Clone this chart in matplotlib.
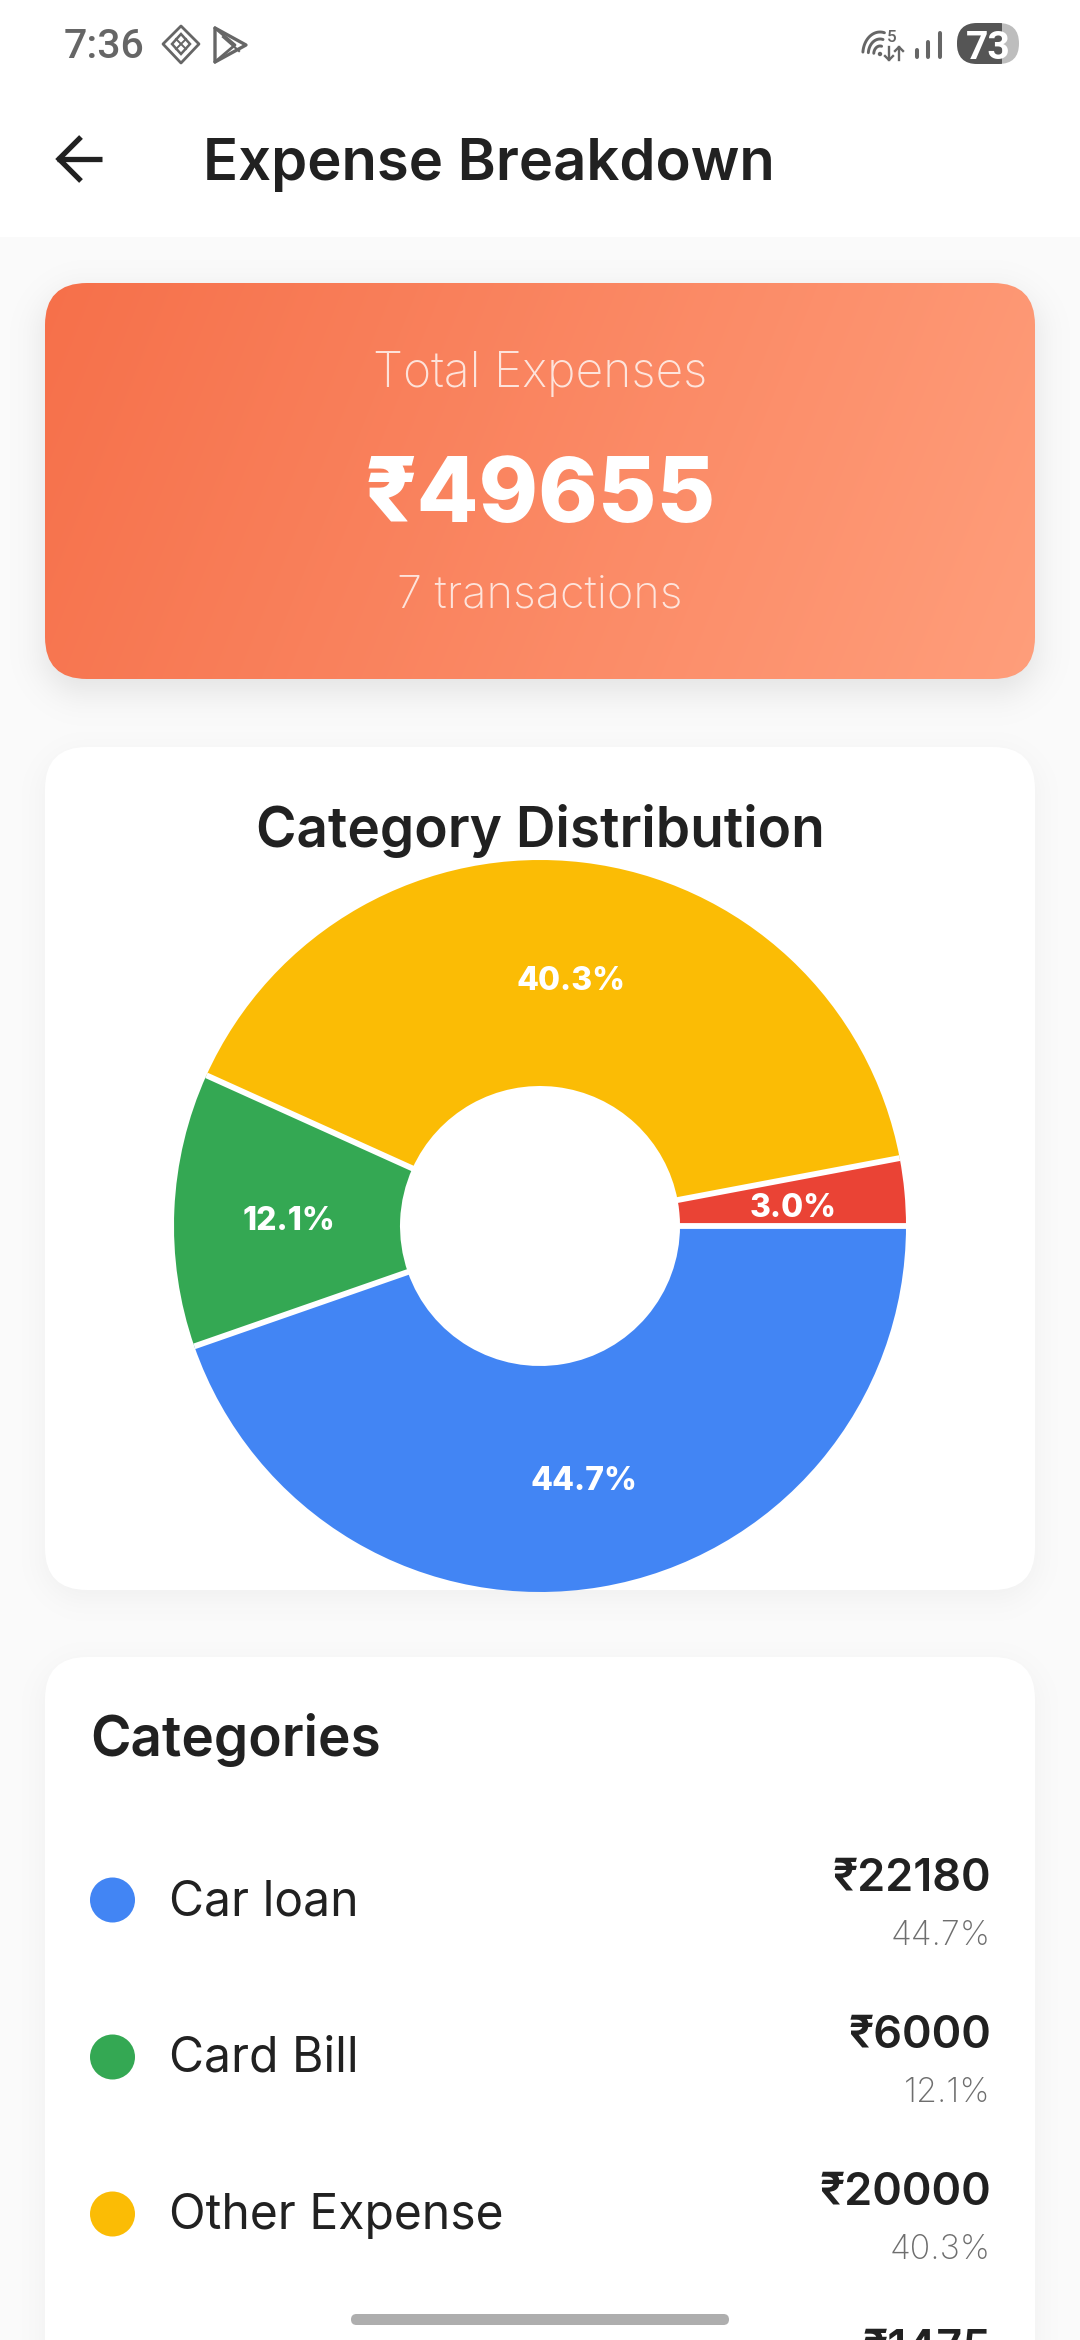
import numpy as np
import matplotlib
matplotlib.use("Agg")
import matplotlib.pyplot as plt
from matplotlib.patches import FancyBboxPatch, Circle, Polygon, Rectangle
from matplotlib.colors import to_rgb

W, H = 1080, 2340

# ---- data ----
pie_values = [22180, 6000, 20000, 1475]
pie_colors = ['#4285F4', '#34A853', '#FBBC05', '#EA4335']
row_names = ['Car loan', 'Card Bill', 'Other Expense']
row_amounts = ['₹22180', '₹6000', '₹20000', '₹1475']
row_percents = ['44.7%', '12.1%', '40.3%']
total_label = '₹49655'
tx_label = '7 transactions'

FONT = ['Inter', 'DejaVu Sans']
plt.rcParams['font.family'] = FONT

fig = plt.figure(figsize=(W / 100, H / 100), dpi=100, facecolor='#FAFAFA')
bg = fig.add_axes([0, 0, 1, 1])
bg.set_xlim(0, W)
bg.set_ylim(H, 0)
bg.axis('off')


def sdf(x0, y0, x1, y1, r):
    xx, yy = np.meshgrid(np.arange(W) + .5, np.arange(H) + .5)
    cx, cy = (x0 + x1) / 2, (y0 + y1) / 2
    hx, hy = (x1 - x0) / 2 - r, (y1 - y0) / 2 - r
    qx, qy = np.abs(xx - cx) - hx, np.abs(yy - cy) - hy
    return np.hypot(np.maximum(qx, 0), np.maximum(qy, 0)) + np.minimum(np.maximum(qx, qy), 0) - r


def shadow(x0, y0, x1, y1, r, dy, s, a):
    d = sdf(x0, y0 + dy, x1, y1 + dy, r)
    alpha = a / (1 + np.exp(np.clip(d / s, -30, 30)))
    img = np.zeros((H, W, 4))
    img[..., 3] = alpha
    bg.imshow(img, extent=(0, W, H, 0), zorder=1, interpolation='nearest', aspect='auto')


def card(x0, y0, x1, y1, r, color='white', z=2):
    p = FancyBboxPatch((x0 + r, y0 + r), x1 - x0 - 2 * r, y1 - y0 - 2 * r,
                       boxstyle=f'round,pad={r},rounding_size={r}', fc=color, ec='none', zorder=z)
    bg.add_patch(p)
    return p


def txt(x, y, s, px, color='#212121', weight='normal', ha='left', va='baseline', alpha=None, z=6, family=None):
    return bg.text(x, y, s, fontsize=px * .72, color=color, fontweight=weight, ha=ha, va=va,
                   alpha=alpha, zorder=z, family=family or FONT)


# app bar
bg.add_patch(Rectangle((0, 0), W, 237, fc='white', ec='none', zorder=1.5))

CR = 42
# shadows
shadow(45, 283, 1035, 679, CR, 12, 11, 0.10)
shadow(45, 747, 1035, 1590, CR, 8, 10, 0.045)
shadow(45, 1657, 1035, 2500, CR, 8, 10, 0.045)

# gradient card
x0, y0, x1, y1 = 45, 283, 1035, 679
xx, yy = np.meshgrid(np.linspace(x0, x1, 495), np.linspace(y0, y1, 198))
dx, dy = x1 - x0, y1 - y0
t = (((xx - x0) * dx + (yy - y0) * dy) / (dx * dx + dy * dy))[..., None]
c0, c1 = np.array(to_rgb('#F6704A')), np.array(to_rgb('#FF9E7B'))
grad = bg.imshow(c0 + (c1 - c0) * t, extent=(x0, x1, y1, y0), zorder=2, aspect='auto', interpolation='bilinear')
clip = card(x0, y0, x1, y1, CR, color='none')
grad.set_clip_path(clip)
bg.set_xlim(0, W)
bg.set_ylim(H, 0)

# white cards
card(45, 747, 1035, 1590, CR)
card(45, 1657, 1035, 2500, CR)

# status bar
ROBOTO = ['Roboto', 'DejaVu Sans']
txt(64, 58, '7:36', 41, color='#666666', weight='medium', family=ROBOTO)
G = '#666666'
bg.add_patch(Polygon([(181, 26), (199, 44), (181, 63), (163, 44)], fc='none', ec=G, lw=2, joinstyle='round', zorder=6))
bg.add_patch(Polygon([(181, 34), (190, 44), (181, 54), (172, 44)], fc='none', ec=G, lw=1.8, zorder=6))
bg.plot([176, 186], [39, 49], color=G, lw=1.4, zorder=6)
bg.plot([186, 176], [39, 49], color=G, lw=1.4, zorder=6)
bg.add_patch(Polygon([(215, 28), (246, 45), (215, 62)], fc='none', ec=G, lw=2.4, joinstyle='round', zorder=6))
bg.plot([215, 235, 215], [28, 45, 62], color=G, lw=2, zorder=6)
bg.plot([223, 239], [37, 51], color=G, lw=1.6, zorder=6)

# wifi
for r in (8, 15, 22):
    a = np.radians(np.linspace(185, 285, 24))
    bg.plot(880 + r * np.cos(a) * 0.78, 54 + r * np.sin(a), color=G, lw=2.1, zorder=6, solid_capstyle='round')
bg.add_patch(Circle((880, 54), 2.2, fc=G, ec='none', zorder=6))
txt(892, 42, '5', 17, color=G, ha='center', weight='medium', family=ROBOTO)
for ax_, top, bot, hd in ((889, 47, 60, 1), (899, 60, 47, -1)):
    bg.plot([ax_, ax_], [top, bot], color=G, lw=1.7, zorder=6)
    bg.plot([ax_ - 4, ax_, ax_ + 4], [bot - 4 * hd, bot, bot - 4 * hd], color=G, lw=1.7, zorder=6)
# signal
for bx, top in zip((917, 928, 940), (50, 42, 33)):
    bg.plot([bx, bx], [top, 57], color=G, lw=2.9, solid_capstyle='round', zorder=6)
# battery
batt = card(957, 23, 1019, 64, 20.5, color='#BDBDBD', z=5)
dark = bg.add_patch(Rectangle((957, 23), 45, 41, fc='#555555', ec='none', zorder=5.5))
dark.set_clip_path(batt)
txt(988, 59, '73', 39, color='white', weight='bold', ha='center', family=ROBOTO)

# app bar content
bg.plot([57, 102], [159, 159], color='#212121', lw=3.8, zorder=6, solid_capstyle='butt')
bg.plot([81, 59, 81], [137, 159, 181], color='#212121', lw=3.8, zorder=6, solid_capstyle='butt', solid_joinstyle='miter')
txt(203, 180, 'Expense Breakdown', 58, weight='semibold')

# total card
txt(540, 387, 'Total Expenses', 48, color='white', ha='center', alpha=.78, weight='light')
txt(540, 522, total_label, 90, color='white', ha='center', weight='heavy')
txt(540, 608, tx_label, 45, color='white', ha='center', alpha=.78, weight='light')

# distribution
txt(540, 847, 'Category Distribution', 55, ha='center', weight='semibold')

R, r_in = 366, 140
cx, cy = 540, 1226
pie_ax = fig.add_axes([(cx - R) / W, 1 - (cy + R) / H, 2 * R / W, 2 * R / H])
wedges, _, autos = pie_ax.pie(
    pie_values, colors=pie_colors, startangle=0, counterclock=False, radius=1,
    wedgeprops=dict(width=(R - r_in) / R, edgecolor='none'),
    autopct='%.1f%%', pctdistance=(R + r_in) / 2 / R,
    textprops=dict(color='white', fontweight='heavy', fontsize=32 * .72, va='center_baseline'))
pie_ax.set_xlim(-1, 1)
pie_ax.set_ylim(-1, 1)
pie_ax.set_aspect('equal')
pie_ax.axis('off')
for w in wedges:
    w.set_clip_on(False)
for a in autos:
    ax_, ay_ = a.get_position()
    a.set_position((ax_ + 1.5 / R, ay_ - 3 / R))
# white radial gaps between the slices
for w in wedges:
    th = np.radians(w.theta2)
    pie_ax.plot([r_in / R * np.cos(th) * .98, np.cos(th)], [r_in / R * np.sin(th) * .98, np.sin(th)],
                color='white', lw=4.2, solid_capstyle='butt', clip_on=False, zorder=2)

# category list
txt(90, 1756, 'Categories', 55, weight='semibold')
pitch = 157
for i in range(4):
    if i < 3:
        yc = 1900 + pitch * i
        bg.add_patch(Circle((112.5, yc), 22.5, fc=pie_colors[i], ec='none', zorder=6))
        txt(169, yc + 15, row_names[i], 48, weight='normal')
        txt(991, 1945 + pitch * i, row_percents[i], 34, color='#6e6e6e', ha='right', weight='light')
    txt(991, 1891 + pitch * i, row_amounts[i], 45, ha='right', weight='semibold')

# home indicator
card(351, 2314, 729, 2325, 5.5, color='#AEAEAE', z=8)

fig.savefig('out.png', dpi=100, facecolor=fig.get_facecolor())
